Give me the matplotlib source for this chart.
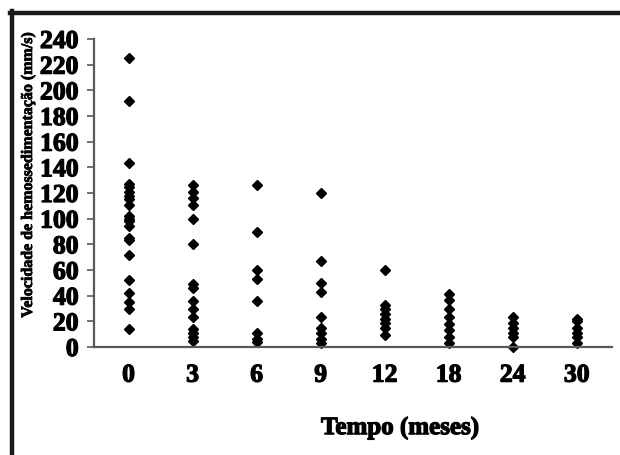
import matplotlib
matplotlib.use("Agg")
import matplotlib.pyplot as plt
from matplotlib.lines import Line2D
import matplotlib.patheffects as pe
from matplotlib.transforms import ScaledTranslation

# ---- data ----
tempo_labels = ["0", "3", "6", "9", "12", "18", "24", "30"]
vhs_0 = [225, 192, 143, 127, 125, 121, 118, 115, 111, 102, 100, 98, 94, 85, 83, 72, 52, 42, 35, 30, 14]
vhs_3 = [126, 121, 116, 111, 100, 80, 49, 46, 36, 30, 23, 14, 11, 8, 5]
vhs_6 = [126, 90, 60, 53, 36, 11, 6, 4]
vhs_9 = [120, 67, 50, 43, 23, 15, 11, 6, 3]
vhs_12 = [60, 33, 30, 26, 22, 19, 15, 9]
vhs_18 = [41, 37, 30, 23, 18, 13, 8, 3]
vhs_24 = [23, 19, 15, 11, 8, 0]
vhs_30 = [22, 20, 15, 11, 8, 3]
y_ticks = [0, 20, 40, 60, 80, 100, 120, 140, 160, 180, 200, 220, 240]

series = [vhs_0, vhs_3, vhs_6, vhs_9, vhs_12, vhs_18, vhs_24, vhs_30]

W, H = 620, 456
fig = plt.figure(figsize=(W / 100, H / 100), dpi=100)
fig.patch.set_facecolor("white")

font = dict(family="Liberation Serif", weight="bold")
heavy = [pe.withStroke(linewidth=0.9, foreground="black")]
heavy_small = [pe.withStroke(linewidth=0.5, foreground="black")]

ax = fig.add_axes([94 / W, 1 - 348 / H, (612 - 94) / W, (348 - 40) / H])
for i, vals in enumerate(series):
    ax.plot([i] * len(vals), vals, linestyle="none", marker="D",
            markersize=5.4, color="black", clip_on=False)

ax.set_xlim(-0.54, 7.55)
ax.set_ylim(0, 240)
ax.set_yticks(y_ticks)
ax.set_yticklabels([str(v) for v in y_ticks], fontsize=18.5, **font)
ax.set_xticks(range(len(tempo_labels)))
ax.set_xticklabels(tempo_labels, fontsize=18.5, **font)
for lab in ax.get_xticklabels() + ax.get_yticklabels():
    lab.set_path_effects(heavy)

# small horizontal offsets of the category labels (pixels), as in the reference
label_shift_px = [-2, -2, 1, 3, 11, 4, 10, 6]
for lab, dx in zip(ax.get_xticklabels(), label_shift_px):
    lab.set_transform(lab.get_transform() + ScaledTranslation(dx / 100, 0, fig.dpi_scale_trans))

ax.tick_params(axis="x", length=0, pad=12)
ax.tick_params(axis="y", length=5, width=1.2, color="#595959", pad=6, direction="out")
for s in ["top", "right"]:
    ax.spines[s].set_visible(False)
for s in ["left", "bottom"]:
    ax.spines[s].set_color("#595959")
    ax.spines[s].set_linewidth(1.6)

t1 = fig.text(400 / W, 1 - 429 / H, "Tempo (meses)", ha="center", va="center",
              fontsize=18, **font)
t1.set_path_effects(heavy)
t2 = fig.text(28 / W, 1 - 176 / H, "Velocidade de hemossedimentação (mm/s)",
              ha="center", va="center", rotation=90, fontsize=11.5, **font)
t2.set_path_effects(heavy_small)

# outer frame (left and top edges)
fig.add_artist(Line2D([12 / W, 12 / W], [0, 1 - 12 / H], transform=fig.transFigure,
                      color="#1a1a1a", linewidth=3.2))
fig.add_artist(Line2D([10 / W, 1.0], [1 - 14 / H, 1 - 14 / H], transform=fig.transFigure,
                      color="#1a1a1a", linewidth=3.2))

fig.savefig("out.png", dpi=100)
